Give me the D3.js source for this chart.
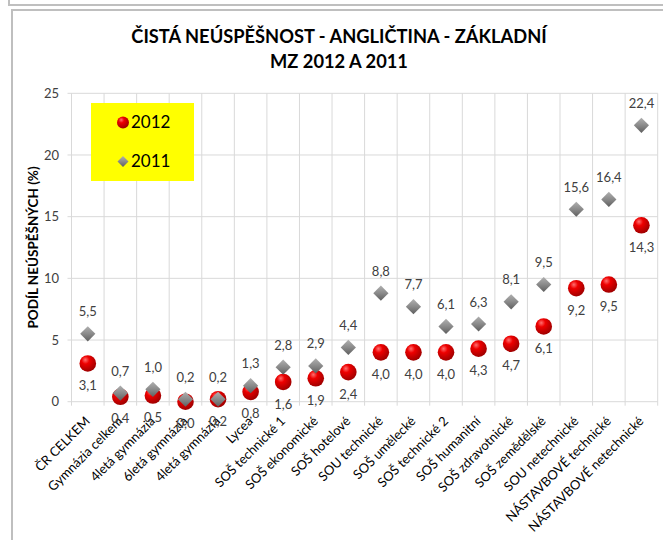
<!DOCTYPE html>
<html><head><meta charset="utf-8">
<script src="https://cdn.jsdelivr.net/npm/d3@7"></script>
<style>
html,body{margin:0;padding:0;background:#fff;}
svg{display:block;}
text{font-family:Lato,"Open Sans",sans-serif;}
</style></head>
<body>
<svg id="c" width="663" height="540"></svg>
<script>
const categories = ["ČR CELKEM","Gymnázia celkem","4letá gymnázia","6letá gymnázia","4letá gymnázia","Lycea","SOŠ technické 1","SOŠ ekonomické","SOŠ hotelové","SOU technické","SOŠ umělecké","SOŠ technické 2","SOŠ humanitní","SOŠ zdravotnické","SOŠ zemědělské","SOU netechnické","NÁSTAVBOVÉ technické","NÁSTAVBOVÉ netechnické"];
const values2012 = [3.1,0.4,0.5,0.0,0.2,0.8,1.6,1.9,2.4,4.0,4.0,4.0,4.3,4.7,6.1,9.2,9.5,14.3];
const values2011 = [5.5,0.7,1.0,0.2,0.2,1.3,2.8,2.9,4.4,8.8,7.7,6.1,6.3,8.1,9.5,15.6,16.4,22.4];
const yTicks = [0,5,10,15,20,25];
const seriesNames = ["2012","2011"];
const titleLines = ["ČISTÁ NEÚSPĚŠNOST - ANGLIČTINA - ZÁKLADNÍ","MZ 2012 A 2011"];
const yTitle = "PODÍL NEÚSPĚŠNÝCH (%)";

const svg = d3.select("#c");
const fmt = v => d3.format(".1f")(v).replace(".", ",");

// defs
const defs = svg.append("defs");
const rg = defs.append("radialGradient").attr("id","redG").attr("cx","38%").attr("cy","32%").attr("r","68%").attr("fx","35%").attr("fy","28%");
rg.append("stop").attr("offset","0%").attr("stop-color","#ff7070");
rg.append("stop").attr("offset","35%").attr("stop-color","#ee0000");
rg.append("stop").attr("offset","100%").attr("stop-color","#a00000");
const lg = defs.append("linearGradient").attr("id","grayG").attr("x1","0").attr("y1","0").attr("x2","0").attr("y2","1");
lg.append("stop").attr("offset","0%").attr("stop-color","#b0b0b0");
lg.append("stop").attr("offset","50%").attr("stop-color","#8a8a8a");
lg.append("stop").attr("offset","100%").attr("stop-color","#5e5e5e");

// frames
const frame = svg.append("g").attr("fill","none").attr("stroke","#bfbfbf").attr("stroke-width",2);
frame.append("path").attr("d","M9,0 V5 H663");
frame.append("path").attr("d","M12,540 V10 H663");

// scales
const x = d3.scaleBand().domain(d3.range(categories.length)).range([71.5, 657.7]).padding(0);
const y = d3.scaleLinear().domain([0,25]).range([401.7, 93.3]);

// gridlines
const grid = svg.append("g").attr("stroke","#d9d9d9").attr("stroke-width",1);
grid.selectAll("line.h").data(yTicks).join("line")
  .attr("x1",67.5).attr("x2",657.7).attr("y1",d=>y(d)).attr("y2",d=>y(d));
const bounds = d3.range(categories.length+1).map(i => i<categories.length ? x(i) : x(categories.length-1)+x.bandwidth());
grid.selectAll("line.v").data(bounds).join("line")
  .attr("x1",d=>d).attr("x2",d=>d).attr("y1",y(25)).attr("y2",y(0)+4);

// y tick labels
svg.append("g").selectAll("text").data(yTicks).join("text")
  .attr("x",59).attr("y",d=>y(d)).attr("dy","0.35em").attr("text-anchor","end")
  .attr("font-size",13).attr("fill","#404040").text(d=>d);

// y title
svg.append("text").attr("transform",`translate(38,${(y(0)+y(25))/2}) rotate(-90)`)
  .attr("text-anchor","middle").attr("font-size",13.5).attr("font-weight","bold").attr("fill","#000").text(yTitle);

// title
const tg = svg.append("g");
tg.selectAll("text").data(titleLines).join("text")
  .attr("x",339).attr("y",(d,i)=>43+i*25).attr("text-anchor","middle")
  .attr("font-size",18.3).attr("font-weight","bold").attr("fill","#000").text(d=>d);

// x labels
svg.append("g").selectAll("text").data(categories).join("text")
  .attr("transform",(d,i)=>`translate(${x(i)+x.bandwidth()/2+3},422) rotate(-45)`)
  .attr("text-anchor","end").attr("font-size",13).attr("fill","#000").text(d=>d);

const cx = i => x(i)+x.bandwidth()/2;
// 2012 circles
svg.append("g").selectAll("circle").data(values2012).join("circle")
  .attr("cx",(d,i)=>cx(i)).attr("cy",d=>y(d)).attr("r",8.3).attr("fill","url(#redG)");
// 2011 diamonds
const dSize = 7.6;
svg.append("g").selectAll("path").data(values2011).join("path")
  .attr("d",(d,i)=>{const X=cx(i),Y=y(d);return `M${X},${Y-dSize} L${X+dSize},${Y} L${X},${Y+dSize} L${X-dSize},${Y} Z`;})
  .attr("fill","url(#grayG)");

// data labels
svg.append("g").selectAll("text").data(values2012).join("text")
  .attr("x",(d,i)=>cx(i)).attr("y",d=>y(d)+22).attr("dy","0.35em").attr("text-anchor","middle")
  .attr("font-size",13).attr("fill","#404040").text(fmt);
svg.append("g").selectAll("text").data(values2011).join("text")
  .attr("x",(d,i)=>cx(i)).attr("y",d=>y(d)-22).attr("dy","0.35em").attr("text-anchor","middle")
  .attr("font-size",13).attr("fill","#404040").text(fmt);

// legend
const lgG = svg.append("g");
lgG.append("rect").attr("x",91).attr("y",103).attr("width",103).attr("height",78).attr("fill","#ffff00");
lgG.append("circle").attr("cx",123).attr("cy",122.5).attr("r",6).attr("fill","url(#redG)");
lgG.append("path").attr("d",`M123,${161.5-5.5} L128.5,161.5 L123,${161.5+5.5} L117.5,161.5 Z`).attr("fill","url(#grayG)");
lgG.selectAll("text").data(seriesNames).join("text")
  .attr("x",131).attr("y",(d,i)=>i?161.5:122.5).attr("dy","0.35em")
  .attr("font-size",17).attr("fill","#000").text(d=>d);
</script>
</body></html>
